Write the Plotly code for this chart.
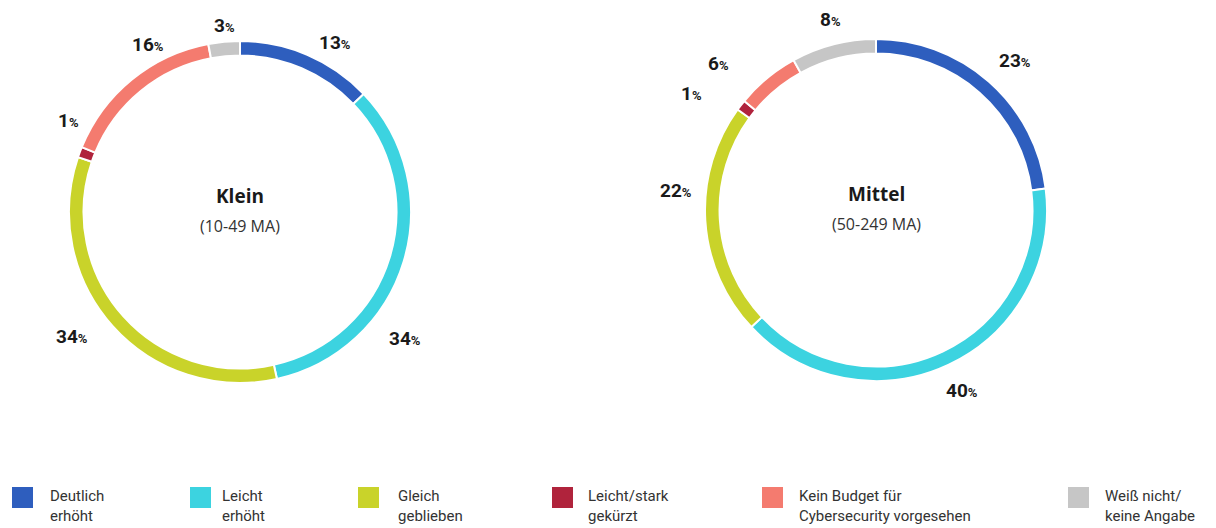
import plotly.graph_objects as go

categories = ["Deutlich erhöht", "Leicht erhöht", "Gleich geblieben", "Leicht/stark gekürzt",
              "Kein Budget für Cybersecurity vorgesehen", "Weiß nicht/keine Angabe"]
legend_labels = ["Deutlich<br>erhöht", "Leicht<br>erhöht", "Gleich<br>geblieben", "Leicht/stark<br>gekürzt",
                 "Kein Budget für<br>Cybersecurity vorgesehen", "Weiß nicht/<br>keine Angabe"]
colors = ["#2E5EBE", "#3CD3E0", "#C9D32A", "#B0233C", "#F47B6F", "#C6C6C6"]

klein_values = [13, 34, 34, 1, 16, 3]
mittel_values = [23, 40, 22, 1, 6, 8]

titles = ["Klein", "Mittel"]
subtitles = ["(10-49 MA)", "(50-249 MA)"]

W, H = 1216, 528
# pie centers and radius in pixels
centers = [(240, 212), (876, 210)]
radius = 171

# label positions (pixels) for each pie slice
klein_label_pos = [(335, 42), (405, 338), (72, 336), (68, 120), (148, 44), (224, 26)]
mittel_label_pos = [(1015, 60), (962, 390), (676, 190), (691, 93), (718, 63), (830, 20)]

def px_x(x):
    return x / W

def px_y(y):
    return 1 - y / H

fig = go.Figure()
for vals, (cx, cy) in zip([klein_values, mittel_values], centers):
    fig.add_trace(go.Pie(
        labels=categories, values=vals, sort=False, direction="clockwise", rotation=0,
        hole=0.915, textinfo="none", hoverinfo="label+percent",
        marker=dict(colors=colors, line=dict(color="white", width=2)),
        domain=dict(x=[px_x(cx - radius), px_x(cx + radius)],
                    y=[px_y(cy + radius), px_y(cy - radius)]),
        showlegend=False,
    ))

annotations = []
for vals, positions in [(klein_values, klein_label_pos), (mittel_values, mittel_label_pos)]:
    for v, (x, y) in zip(vals, positions):
        annotations.append(dict(
            x=px_x(x), y=px_y(y), xref="paper", yref="paper", showarrow=False,
            text=f"<b>{v}</b><span style='font-size:13px'><b>%</b></span>",
            font=dict(family="Roboto", size=19, color="#1a1a1a"),
            xanchor="center", yanchor="middle"))

for t, s, (cx, cy) in zip(titles, subtitles, centers):
    annotations.append(dict(x=px_x(cx), y=px_y(cy - 16), xref="paper", yref="paper", showarrow=False,
                            text=f"<b>{t}</b>", font=dict(family="Open Sans", size=19, color="#1a1a1a"),
                            xanchor="center", yanchor="middle"))
    annotations.append(dict(x=px_x(cx), y=px_y(cy + 14), xref="paper", yref="paper", showarrow=False,
                            text=s, font=dict(family="Open Sans", size=16, color="#333333"),
                            xanchor="center", yanchor="middle"))

# custom legend
legend_square_x = [12, 190, 358, 552, 762, 1068]
legend_text_x = [48, 220, 396, 586, 797, 1103]
shapes = []
for sx, tx, lab, col in zip(legend_square_x, legend_text_x, legend_labels, colors):
    shapes.append(dict(type="rect", xref="paper", yref="paper",
                       x0=px_x(sx), x1=px_x(sx + 21), y0=px_y(508), y1=px_y(487),
                       fillcolor=col, line=dict(width=0)))
    annotations.append(dict(x=px_x(tx), y=px_y(506), xref="paper", yref="paper", showarrow=False,
                            text=lab, align="left", xanchor="left", yanchor="middle",
                            font=dict(family="Roboto", size=15, color="#333333")))

fig.update_layout(width=W, height=H, margin=dict(l=0, r=0, t=0, b=0),
                  paper_bgcolor="white", plot_bgcolor="white",
                  annotations=annotations, shapes=shapes)
fig.write_html("out.html")
